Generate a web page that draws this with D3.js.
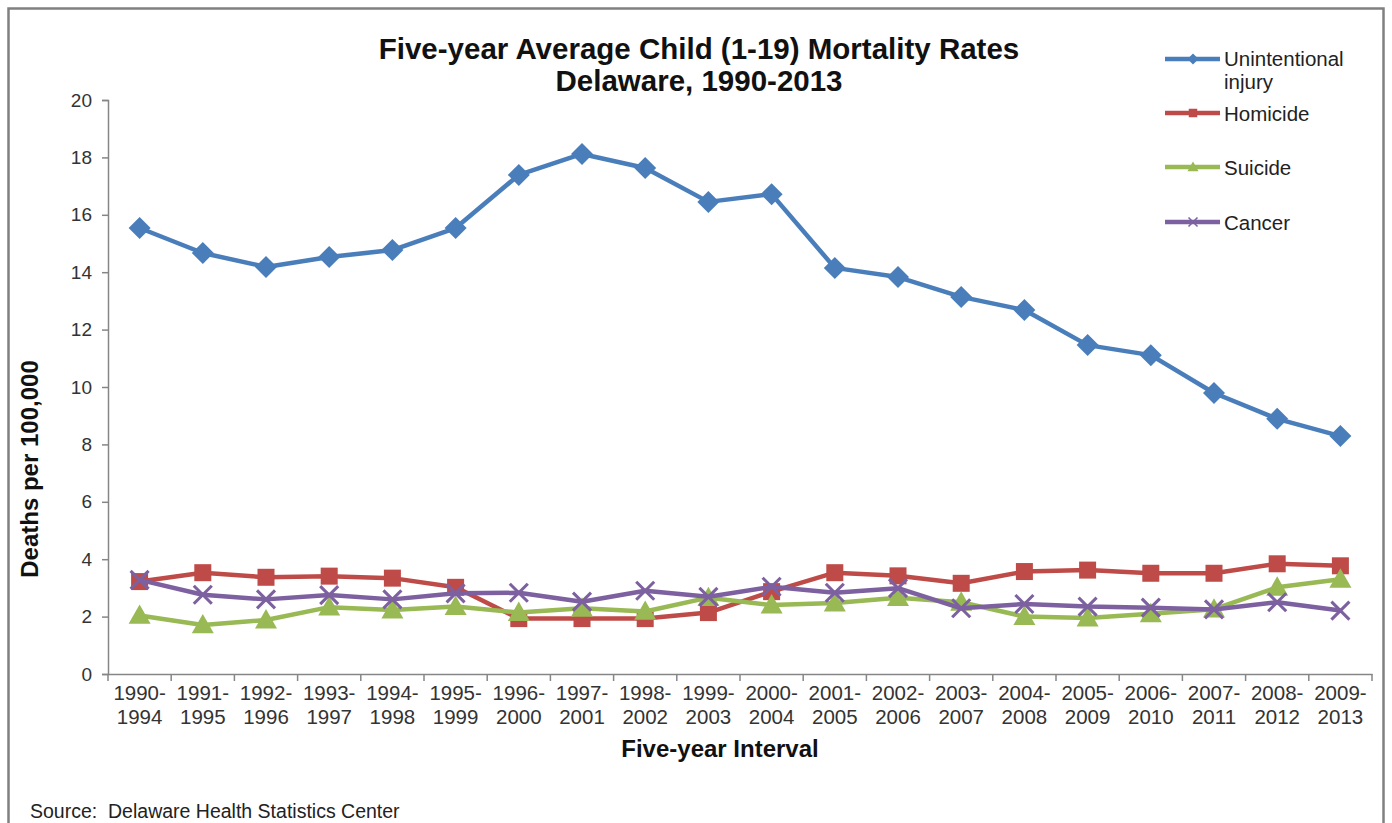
<!DOCTYPE html>
<html><head><meta charset="utf-8">
<script src="https://cdn.jsdelivr.net/npm/d3@7"></script>
<style>body{margin:0;background:#fff}svg{display:block}</style>
</head><body>
<svg id="chart" width="1392" height="823"></svg>
<script>
const categories = ["1990-1994","1991-1995","1992-1996","1993-1997","1994-1998","1995-1999","1996-2000","1997-2001","1998-2002","1999-2003","2000-2004","2001-2005","2002-2006","2003-2007","2004-2008","2005-2009","2006-2010","2007-2011","2008-2012","2009-2013"];
const unintentional = [15.54,14.67,14.18,14.53,14.77,15.54,17.39,18.12,17.63,16.45,16.72,14.15,13.83,13.14,12.68,11.46,11.11,9.79,8.89,8.29];
const homicide = [3.22,3.53,3.37,3.41,3.34,3.02,1.93,1.93,1.93,2.14,2.87,3.53,3.42,3.16,3.57,3.62,3.51,3.51,3.84,3.77];
const suicide = [2.04,1.71,1.88,2.33,2.23,2.35,2.14,2.29,2.18,2.66,2.40,2.47,2.66,2.50,2.00,1.95,2.10,2.26,3.02,3.30];
const cancer = [3.28,2.76,2.60,2.75,2.60,2.81,2.83,2.52,2.90,2.69,3.04,2.83,2.99,2.29,2.44,2.35,2.31,2.25,2.50,2.21];
const yTicks = [0,2,4,6,8,10,12,14,16,18,20];
const seriesNames = ["Unintentional injury","Homicide","Suicide","Cancer"];
const seriesColors = ["#4A7EBB","#BE4B48","#98B954","#7D60A0"];
const seriesMarkers = ["diamond","square","triangle","cross"];

const series = [unintentional, homicide, suicide, cancer].map((v,i)=>({name:seriesNames[i], values:v, color:seriesColors[i], marker:seriesMarkers[i]}));

const svg = d3.select("#chart");
const font = "'Liberation Sans', Arial, sans-serif";

svg.append("rect").attr("x",8.5).attr("y",8.5).attr("width",1375).attr("height",830)
  .attr("fill","none").attr("stroke","#808080").attr("stroke-width",2.5);

const pLeft = 108, pRight = 1372, pTop = 100, pBottom = 674;
const x = d3.scaleBand().domain(categories).range([pLeft,pRight]).padding(0);
const y = d3.scaleLinear().domain([0,20]).range([pBottom,pTop]);

const yAxis = svg.append("g").attr("transform",`translate(${pLeft},0)`)
  .call(d3.axisLeft(y).tickValues(yTicks).tickSize(6).tickPadding(10));
yAxis.select(".domain").attr("stroke","#868686").attr("stroke-width",1.5);
yAxis.selectAll(".tick line").attr("stroke","#868686").attr("stroke-width",1.5);
yAxis.selectAll(".tick text").attr("font-family",font).attr("font-size",19).attr("fill","#333");

const xAxis = svg.append("g").attr("transform",`translate(0,${pBottom})`)
  .call(d3.axisBottom(x).tickSize(0).tickFormat(""));
xAxis.select(".domain").attr("stroke","#868686").attr("stroke-width",1.5);
xAxis.selectAll(".tick").remove();
const bounds = categories.map(c=>x(c)).concat([x(categories[categories.length-1])+x.bandwidth()]);
xAxis.selectAll("line.bt").data(bounds).enter().append("line").attr("class","bt")
  .attr("x1",d=>d).attr("x2",d=>d).attr("y1",0).attr("y2",7)
  .attr("stroke","#868686").attr("stroke-width",1.5);
const xl = xAxis.selectAll("text.cl").data(categories).enter().append("text").attr("class","cl")
  .attr("font-family",font).attr("font-size",20.5).attr("fill","#333").attr("text-anchor","middle");
xl.append("tspan").attr("x",d=>x(d)+x.bandwidth()/2).attr("y",26).text(d=>d.split("-")[0]+"-");
xl.append("tspan").attr("x",d=>x(d)+x.bandwidth()/2).attr("y",50).text(d=>d.split("-")[1]);

svg.append("text").attr("x",699).attr("y",59).attr("text-anchor","middle")
  .attr("font-family",font).attr("font-weight","bold").attr("font-size",29.5).attr("fill","#111")
  .text("Five-year Average Child (1-19) Mortality Rates");
svg.append("text").attr("x",699).attr("y",91).attr("text-anchor","middle")
  .attr("font-family",font).attr("font-weight","bold").attr("font-size",29.5).attr("fill","#111")
  .text("Delaware, 1990-2013");
svg.append("text").attr("transform","translate(38,469) rotate(-90)").attr("text-anchor","middle")
  .attr("font-family",font).attr("font-weight","bold").attr("font-size",24).attr("fill","#111")
  .text("Deaths per 100,000");
svg.append("text").attr("x",720).attr("y",757).attr("text-anchor","middle")
  .attr("font-family",font).attr("font-weight","bold").attr("font-size",24).attr("fill","#111")
  .text("Five-year Interval");
svg.append("text").attr("x",30).attr("y",818).attr("xml:space","preserve").style("white-space","pre")
  .attr("font-family",font).attr("font-size",19.5).attr("fill","#222")
  .text("Source:  Delaware Health Statistics Center");

function drawMarker(g, type, color, s){
  if(type==="diamond"){
    const h = s/2;
    g.append("path").attr("d",`M0,${-h}L${h},0L0,${h}L${-h},0Z`).attr("fill",color);
  } else if(type==="square"){
    g.append("rect").attr("x",-s/2).attr("y",-s/2).attr("width",s).attr("height",s).attr("fill",color);
  } else if(type==="triangle"){
    g.append("path").attr("d",`M0,${-s*0.55}L${s*0.55},${s*0.42}L${-s*0.55},${s*0.42}Z`).attr("fill",color);
  } else {
    g.append("path").attr("d",`M${-s/2},${-s/2}L${s/2},${s/2}M${s/2},${-s/2}L${-s/2},${s/2}`)
      .attr("stroke",color).attr("stroke-width",Math.max(1.5,s*0.17)).attr("fill","none");
  }
}
const markerSize = {diamond:22, square:17, triangle:20, cross:18};

const line = d3.line().x((d,i)=>x(categories[i])+x.bandwidth()/2).y(d=>y(d));
series.forEach(s=>{
  const g = svg.append("g");
  g.append("path").datum(s.values).attr("d",line).attr("fill","none")
    .attr("stroke",s.color).attr("stroke-width",4.5).attr("stroke-linejoin","round");
  s.values.forEach((v,i)=>{
    const mg = g.append("g").attr("transform",`translate(${x(categories[i])+x.bandwidth()/2},${y(v)})`);
    drawMarker(mg, s.marker, s.color, markerSize[s.marker]);
  });
});

const legY = [59,113,167,222];
series.forEach((s,i)=>{
  const g = svg.append("g").attr("transform",`translate(0,${legY[i]})`);
  g.append("line").attr("x1",1165).attr("x2",1220).attr("y1",0).attr("y2",0)
    .attr("stroke",s.color).attr("stroke-width",4.5);
  const mg = g.append("g").attr("transform","translate(1193,0)");
  drawMarker(mg, s.marker, s.color, markerSize[s.marker]*0.5);
  const t = g.append("text").attr("x",1224).attr("y",7.5).attr("font-family",font).attr("font-size",20.5).attr("fill","#222");
  if(i===0){
    t.append("tspan").attr("x",1224).attr("y",6.5).text("Unintentional");
    t.append("tspan").attr("x",1224).attr("y",29.5).text("injury");
  } else t.text(s.name);
});
</script>
</body></html>
